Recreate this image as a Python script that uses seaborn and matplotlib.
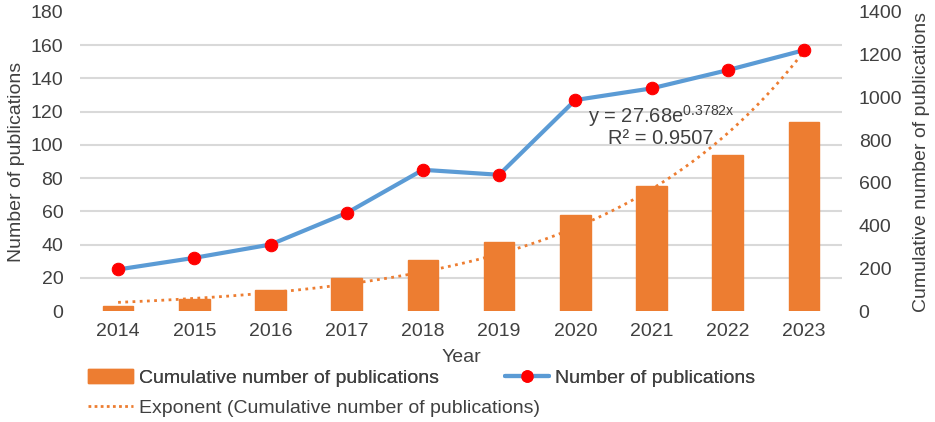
import numpy as np
import seaborn as sns
import matplotlib.pyplot as plt
from matplotlib.patches import Patch
from matplotlib.lines import Line2D

years = [2014, 2015, 2016, 2017, 2018, 2019, 2020, 2021, 2022, 2023]
publications = [25, 32, 40, 59, 85, 82, 127, 134, 145, 157]
cumulative = [25, 57, 97, 156, 241, 323, 450, 584, 729, 886]
left_ticks = [0, 20, 40, 60, 80, 100, 120, 140, 160, 180]
right_ticks = [0, 200, 400, 600, 800, 1000, 1200, 1400]
trend_a = 27.68
trend_b = 0.3782
trend_r2 = 0.9507

BAR = "#ed7d31"
LINE = "#5b9bd5"
DOT = "#ff0000"
GRID = "#d9d9d9"
TXT = "#404040"

sns.set_theme(style="white")
plt.rcParams["font.family"] = ["Liberation Sans", "DejaVu Sans"]

fig = plt.figure(figsize=(9.35, 4.22), dpi=100)
ax = fig.add_axes([80 / 935, 1 - 311 / 422, 762 / 935, 299 / 422])
ax2 = ax.twinx()
ax.set_zorder(ax2.get_zorder() + 1)
ax.patch.set_visible(False)

# bars + trendline on the right (cumulative) axis
idx = np.arange(len(years))
xs = np.linspace(0, len(years) - 1, 200)
ax2.plot(xs, trend_a * np.exp(trend_b * (xs + 1)), color=BAR, lw=2,
         linestyle=(0, (1, 1.6)), zorder=1)
sns.barplot(x=idx, y=cumulative, ax=ax2, color=BAR, width=0.4,
            saturation=1, edgecolor=BAR, zorder=2)

# line on the left axis
sns.lineplot(x=idx, y=publications, ax=ax, color=LINE, lw=3,
             marker="o", markersize=9, markerfacecolor=DOT,
             markeredgecolor=DOT, zorder=5)

ax.set_xlim(-0.5, len(years) - 0.5)
ax.set_ylim(0, 180)
ax2.set_ylim(0, 1400)
ax.set_yticks(left_ticks)
ax2.set_yticks(right_ticks)
# gridlines follow the left axis but sit behind the bars
ax2.set_yticks(np.linspace(0, 1400, len(left_ticks)), minor=True)
ax2.grid(which="minor", axis="y", color=GRID, lw=1.5)
ax2.grid(which="major", visible=False)
ax.grid(False)

ax.set_xticks(idx)
ax.set_xticklabels([str(y) for y in years])
for a in (ax, ax2):
    for s in a.spines.values():
        s.set_visible(False)
    a.tick_params(axis="both", which="both", length=0, labelsize=14,
                  labelcolor=TXT)
ax.tick_params(axis="y", pad=12)
ax.tick_params(axis="x", pad=9)
ax2.tick_params(axis="y", pad=12)

ax.set_xlabel("Year", fontsize=14, color=TXT, labelpad=6)
ax.set_ylabel("Number of publications", fontsize=14, color=TXT, labelpad=4)
ax2.set_ylabel("Cumulative number of publications", fontsize=14, color=TXT,
               labelpad=8)

ax2.text(6.17, 913, f"y = {trend_a}e$\\mathregular{{^{{{trend_b}x}}}}$",
         fontsize=14.5, color=TXT, ha="left", va="center")
ax2.text(6.43, 810, f"R² = {trend_r2}", fontsize=14.5, color=TXT,
         ha="left", va="center")

h_bar = Patch(facecolor=BAR, edgecolor=BAR)
h_line = Line2D([], [], color=LINE, lw=3, marker="o", markersize=8,
                markerfacecolor=DOT, markeredgecolor=DOT)
h_trend = Line2D([], [], color=BAR, lw=2, linestyle=(0, (1, 1.2)))

leg1 = fig.legend([h_bar, h_line],
                  ["Cumulative number of publications", "Number of publications"],
                  loc="center left", bbox_to_anchor=(88 / 935, 1 - 378 / 422),
                  ncol=2, frameon=False, fontsize=14, handlelength=2.3,
                  handletextpad=0.3, columnspacing=3.4, borderpad=0,
                  borderaxespad=0, labelcolor=TXT)
fig.add_artist(leg1)
fig.legend([h_trend], ["Exponent (Cumulative number of publications)"],
           loc="center left", bbox_to_anchor=(88 / 935, 1 - 408 / 422),
           frameon=False, fontsize=14, handlelength=2.3, handletextpad=0.3,
           borderpad=0, borderaxespad=0, labelcolor=TXT)

fig.savefig("out.png", dpi=100)
